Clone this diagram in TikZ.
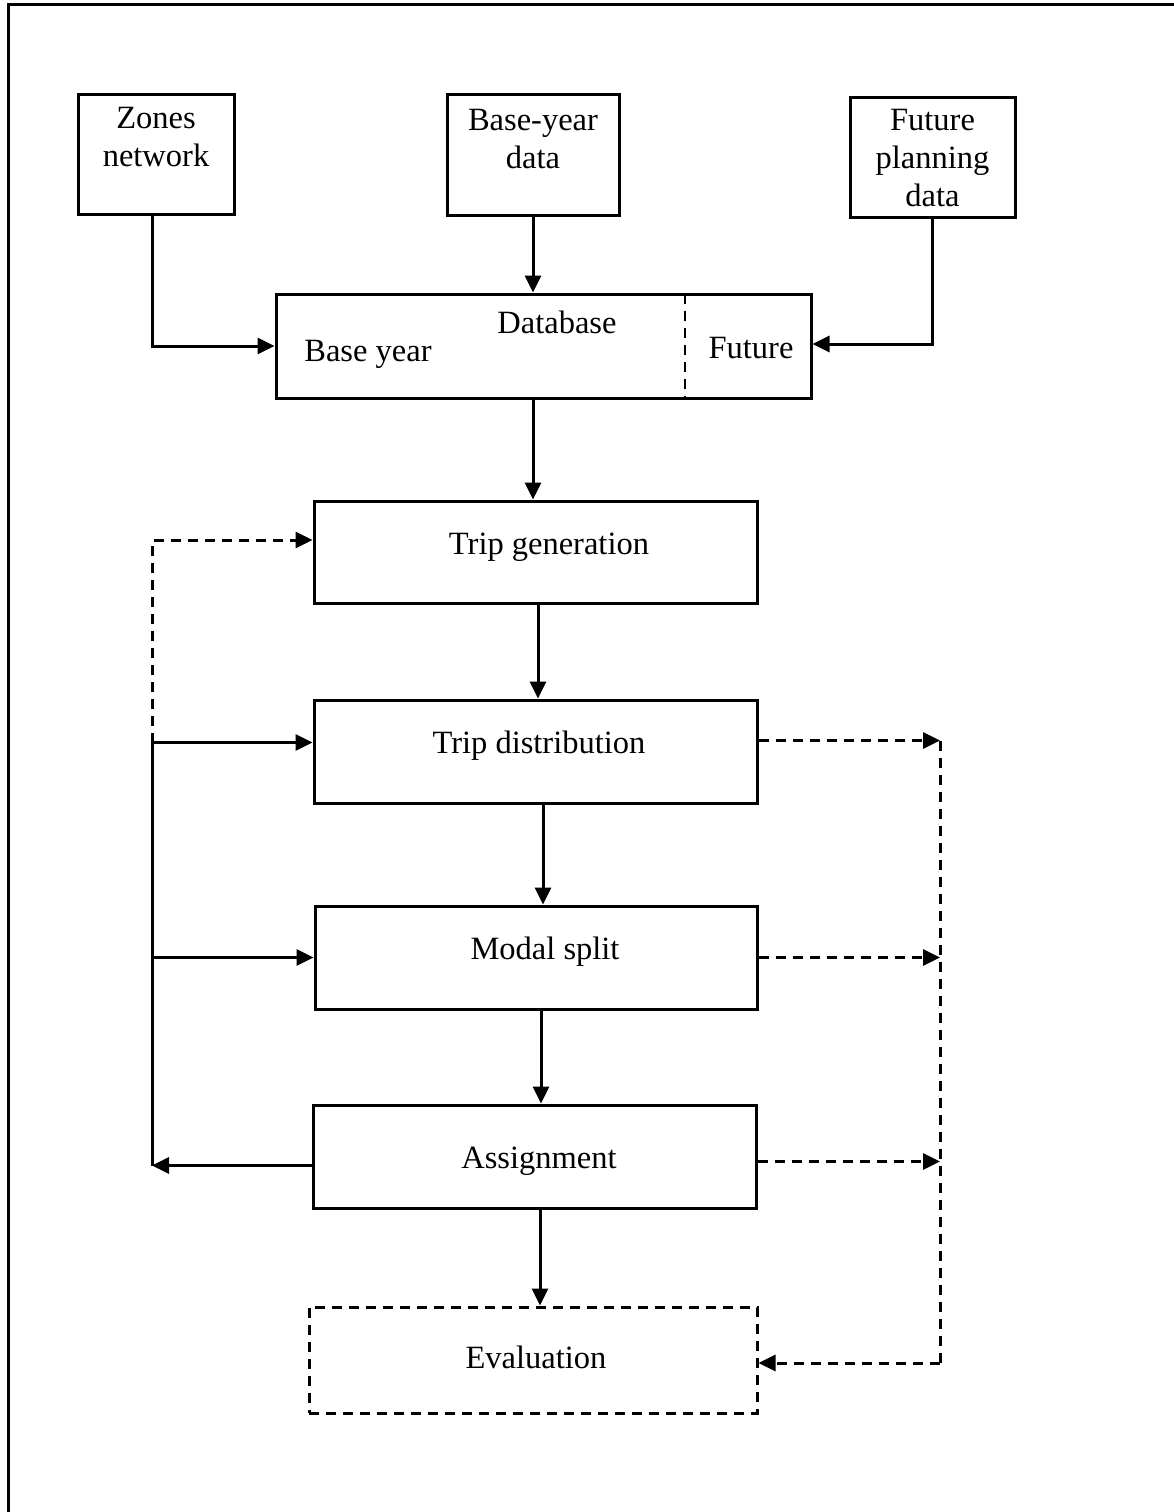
\documentclass[tikz,border=0pt]{standalone}
\usepackage{fontspec}
\setmainfont{Liberation Serif}
\usetikzlibrary{arrows.meta,calc}
\begin{document}
\begin{tikzpicture}[x=1pt,y=-1pt,
  box/.style={draw,line width=3pt,minimum width=#1,inner sep=0pt},
  lbl/.style={font=\fontsize{32.5}{38}\selectfont,align=center,inner sep=0pt},
  arr/.style={line width=3pt,-{Triangle[length=17pt,width=16pt]}},
  ln/.style={line width=3pt},
  dsh/.style={dash pattern=on 10pt off 7pt}]
\useasboundingbox (0,0) rectangle (1174,1512);
% outer frame (top and left edges)
\draw[line width=3pt] (8,1512) -- (8,5) -- (1174,5);

% input boxes
\node[box=156pt,minimum height=120pt] (zones) at (156,154) {};
\node[lbl] (zonesT) at (156,137) {Zones\\network};
\node[box=172pt,minimum height=121pt] (bdata) at (533,154.5) {};
\node[lbl] (bdataT) at (533,139) {Base-year\\data};
\node[box=165pt,minimum height=120pt] (future) at (932.5,157) {};
\node[lbl] (futureT) at (932.5,158) {Future\\planning\\data};

% database box with dashed divider
\node[box=535pt,minimum height=104pt] (db) at (543.5,346) {};
\draw[line width=2.8pt,dsh] (685,294) -- (685,398);
\node[lbl] (dbT) at (557,322) {Database};
\node[lbl] (baseT) at (368,354) {Base year};
\node[lbl] (futT) at (751,348) {Future};

% model stages
\node[box=443pt,minimum height=102pt] (tg) at (535.5,552) {};
\node[lbl] (tgT) at (549,547) {Trip generation};
\node[box=443pt,minimum height=103pt] (td) at (535.5,751.5) {};
\node[lbl] (tdT) at (539,746) {Trip distribution};
\node[box=442pt,minimum height=103pt] (ms) at (536,957.5) {};
\node[lbl] (msT) at (545,952) {Modal split};
\node[box=443pt,minimum height=103pt] (as) at (534.5,1156.5) {};
\node[lbl] (asT) at (539,1161) {Assignment};
\node[draw,line width=3pt,dsh,minimum width=448pt,minimum height=106pt,inner sep=0pt] (ev) at (533,1360) {};
\node[lbl] (evT) at (536,1357) {Evaluation};

% inputs into the database
\draw[arr] (bdata.south) -- (bdata.south |- db.north);
\draw[arr] ($(zones.south)+(-4,0)$) |- (db.west);
\draw[arr] (future.south) |- ($(db.east)+(0,-2)$);

% main chain
\coordinate (c1) at (538,0);
\coordinate (c2) at (543,0);
\coordinate (c3) at (541,0);
\coordinate (c4) at (540,0);
\draw[arr] (db.south -| bdata.south) -- (tg.north -| bdata.south);
\draw[arr] (tg.south -| c1) -- (td.north -| c1);
\draw[arr] (td.south -| c2) -- (ms.north -| c2);
\draw[arr] (ms.south -| c3) -- (as.north -| c3);
\draw[arr] (as.south -| c4) -- (ev.north -| c4);

% feedback loop on the left
\coordinate (lft) at (152,0);
\coordinate (la) at ($(as.west)+(0,9)$);
\coordinate (ld) at ($(td.west)+(0,-9)$);
\draw[arr] (la) -- (la -| lft);
\draw[ln] (la -| lft) -- (ld -| lft);
\draw[arr] (ld -| lft) -- (ld);
\draw[arr] (ms.west -| lft) -- (ms.west);
\draw[arr,dsh] (ld -| lft) |- ($(tg.west)+(0,-12)$);

% outputs to evaluation on the right
\coordinate (rgt) at (940,0);
\coordinate (rd) at ($(td.east)+(0,-11)$);
\coordinate (ra) at ($(as.east)+(0,5)$);
\coordinate (re) at ($(ev.east)+(0,3)$);
\draw[arr,dsh] (rd) -- (rd -| rgt);
\draw[arr,dsh] (ms.east) -- (ms.east -| rgt);
\draw[arr,dsh] (ra) -- (ra -| rgt);
\draw[ln,dsh] (rd -| rgt) -- (re -| rgt);
\draw[arr,dsh] (re -| rgt) -- (re);
\end{tikzpicture}
\end{document}
